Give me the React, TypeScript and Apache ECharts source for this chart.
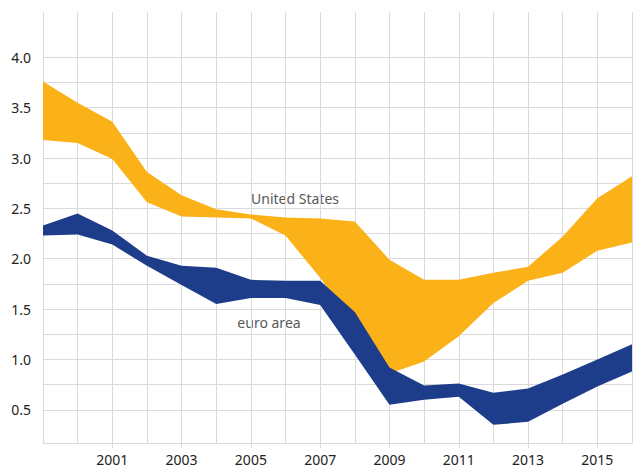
import React, { useEffect, useRef } from "react";
import * as echarts from "echarts";

const years = ["1999","2000","2001","2002","2003","2004","2005","2006","2007","2008","2009","2010","2011","2012","2013","2014","2015","2016"];
const usUpper = [3.76, 3.55, 3.36, 2.86, 2.63, 2.49, 2.44, 2.41, 2.40, 2.37, 1.99, 1.79, 1.79, 1.86, 1.92, 2.22, 2.60, 2.82];
const usLower = [3.18, 3.15, 2.99, 2.56, 2.42, 2.41, 2.40, 2.23, 1.81, 1.33, 0.86, 0.98, 1.23, 1.56, 1.78, 1.86, 2.08, 2.16];
const euUpper = [2.33, 2.45, 2.28, 2.03, 1.93, 1.91, 1.79, 1.78, 1.78, 1.47, 0.92, 0.74, 0.76, 0.67, 0.71, 0.85, 1.00, 1.15];
const euLower = [2.23, 2.24, 2.14, 1.93, 1.74, 1.55, 1.61, 1.61, 1.54, 1.05, 0.55, 0.60, 0.63, 0.35, 0.38, 0.56, 0.73, 0.88];
const gridValues = [0.25, 0.5, 0.75, 1.0, 1.25, 1.5, 1.75, 2.0, 2.25, 2.5, 2.75, 3.0, 3.25, 3.5, 3.75, 4.0, 4.25];
const labelValues = [0.5, 1.0, 1.5, 2.0, 2.5, 3.0, 3.5, 4.0];
const labeledYears = ["2001","2003","2005","2007","2009","2011","2013","2015"];

const YELLOW = "#fbb218";
const BLUE = "#1d3d8b";
const GRID = "#dadada";
const FONT = "Noto Sans";

export default function App() {
  const ref = useRef<HTMLDivElement>(null);
  useEffect(() => {
    if (!ref.current) return;
    const chart = echarts.init(ref.current, null, { renderer: "svg" });
    const diff = (a: number[], b: number[]) => a.map((v, i) => +(v - b[i]).toFixed(4));
    const showYear = (_i: number, v: string) => labeledYears.indexOf(String(v)) >= 0;
    chart.setOption({
      animation: false,
      backgroundColor: "#ffffff",
      grid: { left: 43, right: 1, top: 12, bottom: 25, containLabel: false },
      xAxis: {
        type: "category",
        data: years,
        boundaryGap: false,
        axisLine: { show: true, lineStyle: { color: GRID, width: 1 } },
        axisTick: { show: true, interval: showYear, length: 5, lineStyle: { color: GRID } },
        axisLabel: { interval: showYear, margin: 9, color: "#222", fontSize: 14, lineHeight: 14, fontFamily: FONT },
        splitLine: { show: true, interval: 0, lineStyle: { color: GRID, width: 1 } },
      },
      yAxis: {
        type: "value",
        min: 0.17,
        max: 4.45,
        axisLine: { show: false },
        axisTick: { show: false, customValues: gridValues },
        axisLabel: {
          customValues: labelValues,
          margin: 12,
          color: "#222",
          fontSize: 14,
          fontFamily: FONT,
          formatter: (v: number) => v.toFixed(1),
        },
        splitLine: { show: true, showMinLine: false, showMaxLine: false, lineStyle: { color: GRID, width: 1 } },
      },
      series: [
        { type: "line", stack: "us", data: usLower, symbol: "none", lineStyle: { width: 0, opacity: 0 }, silent: true },
        { type: "line", stack: "us", data: diff(usUpper, usLower), symbol: "none", lineStyle: { width: 0, opacity: 0 }, areaStyle: { color: YELLOW, opacity: 1 }, silent: true },
        { type: "line", stack: "eu", data: euLower, symbol: "none", lineStyle: { width: 0, opacity: 0 }, silent: true },
        { type: "line", stack: "eu", data: diff(euUpper, euLower), symbol: "none", lineStyle: { width: 0, opacity: 0 }, areaStyle: { color: BLUE, opacity: 1 }, silent: true },
      ],
      graphic: [
        { type: "text", x: 295, y: 198, style: { text: "United States", fill: "#595959", fontSize: 14, fontFamily: FONT, align: "center", verticalAlign: "middle" } },
        { type: "text", x: 269, y: 322, style: { text: "euro area", fill: "#595959", fontSize: 14, fontFamily: FONT, align: "center", verticalAlign: "middle" } },
      ],
    });
    return () => chart.dispose();
  }, []);
  return <div ref={ref} style={{ position: "fixed", left: 0, top: 0, width: 633, height: 468 }} />;
}
